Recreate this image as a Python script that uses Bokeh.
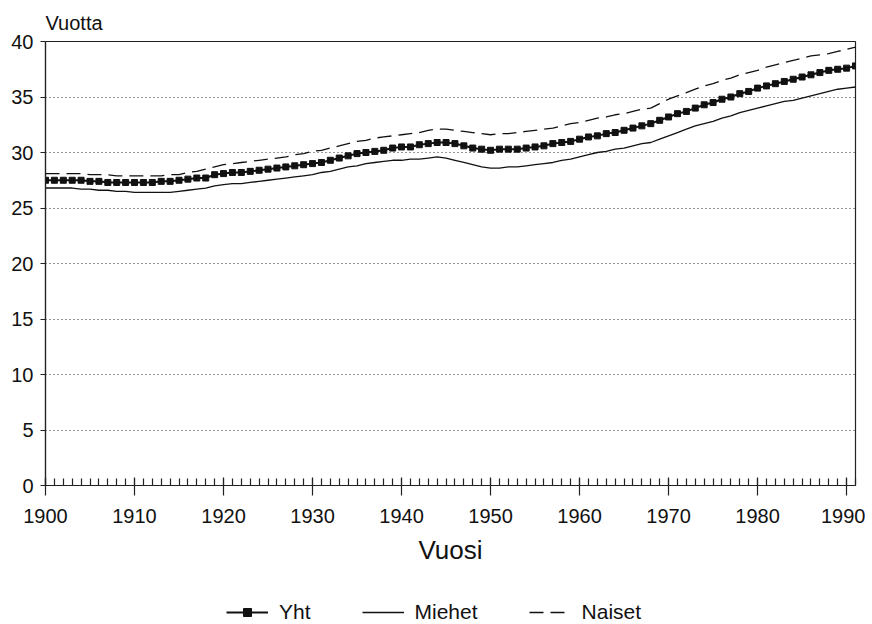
from bokeh.plotting import figure
from bokeh.layouts import column
from bokeh.models import SingleIntervalTicker, Range1d, Legend, LegendItem
from bokeh.embed import file_html
from bokeh.resources import INLINE

years = list(range(1900, 1992))

yht = [27.5, 27.5, 27.5, 27.5, 27.5, 27.4, 27.4, 27.3, 27.3, 27.3,
       27.3, 27.3, 27.3, 27.4, 27.4, 27.5, 27.6, 27.7, 27.7, 28.0,
       28.1, 28.2, 28.2, 28.3, 28.4, 28.5, 28.6, 28.7, 28.8, 28.9,
       29.0, 29.1, 29.3, 29.5, 29.7, 29.9, 30.0, 30.1, 30.2, 30.4,
       30.5, 30.5, 30.7, 30.8, 30.9, 30.9, 30.8, 30.6, 30.4, 30.3,
       30.2, 30.3, 30.3, 30.3, 30.4, 30.5, 30.6, 30.8, 30.9, 31.0,
       31.2, 31.4, 31.5, 31.7, 31.8, 32.0, 32.2, 32.4, 32.6, 32.9,
       33.2, 33.5, 33.7, 34.0, 34.3, 34.5, 34.8, 35.0, 35.3, 35.5,
       35.8, 36.0, 36.2, 36.4, 36.6, 36.8, 37.0, 37.2, 37.4, 37.5,
       37.6, 37.8]

miehet = [26.8, 26.8, 26.8, 26.8, 26.7, 26.7, 26.6, 26.6, 26.5, 26.5,
          26.4, 26.4, 26.4, 26.4, 26.4, 26.5, 26.6, 26.7, 26.8, 27.0,
          27.1, 27.2, 27.2, 27.3, 27.4, 27.5, 27.6, 27.7, 27.8, 27.9,
          28.0, 28.2, 28.3, 28.5, 28.7, 28.8, 29.0, 29.1, 29.2, 29.3,
          29.3, 29.4, 29.4, 29.5, 29.6, 29.5, 29.3, 29.1, 28.9, 28.7,
          28.6, 28.6, 28.7, 28.7, 28.8, 28.9, 29.0, 29.1, 29.3, 29.4,
          29.6, 29.8, 30.0, 30.1, 30.3, 30.4, 30.6, 30.8, 30.9, 31.2,
          31.5, 31.8, 32.1, 32.4, 32.6, 32.8, 33.1, 33.3, 33.6, 33.8,
          34.0, 34.2, 34.4, 34.6, 34.7, 34.9, 35.1, 35.3, 35.5, 35.7,
          35.8, 35.9]

naiset = [28.1, 28.1, 28.1, 28.1, 28.1, 28.0, 28.0, 28.0, 27.9, 27.9,
          27.9, 27.9, 27.9, 27.9, 28.0, 28.0, 28.2, 28.3, 28.5, 28.7,
          28.9, 29.0, 29.1, 29.2, 29.3, 29.4, 29.5, 29.6, 29.8, 29.9,
          30.1, 30.2, 30.4, 30.6, 30.8, 31.0, 31.1, 31.3, 31.4, 31.5,
          31.6, 31.7, 31.8, 32.0, 32.1, 32.1, 32.0, 31.9, 31.8, 31.7,
          31.6, 31.7, 31.7, 31.8, 31.9, 32.0, 32.1, 32.2, 32.4, 32.6,
          32.7, 32.9, 33.1, 33.2, 33.4, 33.5, 33.7, 33.9, 34.0, 34.4,
          34.8, 35.1, 35.4, 35.7, 36.0, 36.2, 36.5, 36.7, 37.0, 37.2,
          37.4, 37.7, 37.9, 38.1, 38.3, 38.5, 38.7, 38.8, 38.9, 39.1,
          39.3, 39.5]

labels = ["Yht", "Miehet", "Naiset"]

FONT = "Liberation Sans"
INK = "#111111"

p = figure(frame_width=810, frame_height=444, output_backend="svg",
           toolbar_location=None, x_range=Range1d(1900, 1991),
           y_range=Range1d(0, 40), min_border_left=45, min_border_top=41,
           min_border_right=10, min_border_bottom=100, title="Vuotta")

p.title.text_font = FONT
p.title.text_font_size = "20px"
p.title.text_font_style = "normal"
p.title.text_color = INK
p.title.align = "left"
p.title.offset = 0
p.title.standoff = 15

p.outline_line_color = "#222222"
p.outline_line_width = 1.2

p.xaxis.ticker = SingleIntervalTicker(interval=10, num_minor_ticks=10)
p.yaxis.ticker = SingleIntervalTicker(interval=5, num_minor_ticks=0)

for ax in (p.xaxis, p.yaxis):
    ax.axis_line_color = "#222222"
    ax.axis_line_width = 1.2
    ax.major_tick_line_color = "#222222"
    ax.major_tick_line_width = 1.2
    ax.minor_tick_line_color = "#222222"
    ax.minor_tick_line_width = 1.2
    ax.major_label_text_font = FONT
    ax.major_label_text_font_size = "20px"
    ax.major_label_text_color = INK

p.xaxis.major_tick_in = 8
p.xaxis.major_tick_out = 10
p.xaxis.minor_tick_in = 7
p.xaxis.minor_tick_out = 0
p.xaxis.major_label_standoff = 13
p.xaxis.axis_label = "Vuosi"
p.xaxis.axis_label_text_font = FONT
p.xaxis.axis_label_text_font_size = "26px"
p.xaxis.axis_label_text_font_style = "normal"
p.xaxis.axis_label_text_color = INK
p.xaxis.axis_label_standoff = 9

p.yaxis.major_tick_in = 0
p.yaxis.major_tick_out = 5
p.yaxis.minor_tick_in = 0
p.yaxis.minor_tick_out = 0
p.yaxis.major_label_standoff = 7

p.xgrid.grid_line_color = None
p.ygrid.grid_line_color = "#333333"
p.ygrid.grid_line_dash = "1 3"
p.ygrid.grid_line_width = 1.2

p.line(years, yht, line_color=INK, line_width=2)
p.scatter(years, yht, marker="square", size=6, fill_color=INK, line_color=INK)
p.line(years, miehet, line_color=INK, line_width=1.3)
p.line(years, naiset, line_color=INK, line_width=1.3, line_dash="14 7")

# legend strip below the chart: same series with the same styles, drawn
# outside this strip's visible range so only the legend keys show
leg = figure(width=865, height=39, output_backend="svg", toolbar_location=None,
             x_axis_location=None, y_axis_location=None, min_border=0,
             x_range=Range1d(0, 1), y_range=Range1d(0, 1))
leg.outline_line_color = None
leg.grid.grid_line_color = None
g_y = leg.line(years, yht, line_color=INK, line_width=2)
g_ys = leg.scatter(years, yht, marker="square", size=6, fill_color=INK,
                   line_color=INK)
g_m = leg.line(years, miehet, line_color=INK, line_width=1.3)
g_n = leg.line(years, naiset, line_color=INK, line_width=1.3,
               line_dash="14 7")

legend = Legend(items=[LegendItem(label=labels[0], renderers=[g_y, g_ys]),
                       LegendItem(label=labels[1], renderers=[g_m]),
                       LegendItem(label=labels[2], renderers=[g_n])],
                orientation="horizontal", location=(181, 0),
                border_line_color=None, background_fill_alpha=0,
                label_text_font=FONT, label_text_font_size="21px",
                label_text_color=INK, glyph_width=42, label_standoff=11,
                spacing=51, padding=0, margin=0)
leg.add_layout(legend, "center")

layout = column(p, leg, spacing=0)
open("out.html", "w").write(file_html(layout, INLINE))
